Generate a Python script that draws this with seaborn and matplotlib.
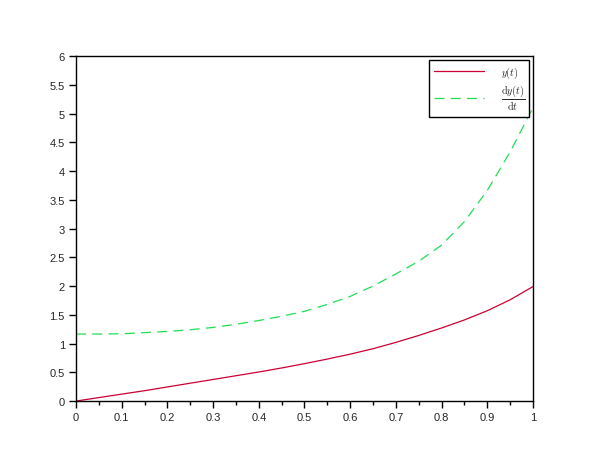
import matplotlib
matplotlib.use("Agg")
import matplotlib.pyplot as plt
import seaborn as sns
import pandas as pd
from matplotlib.ticker import MultipleLocator

t = [0.0, 0.05, 0.1, 0.15, 0.2, 0.25, 0.3, 0.35, 0.4, 0.45, 0.5,
     0.55, 0.6, 0.65, 0.7, 0.75, 0.8, 0.85, 0.9, 0.95, 1.0]
y_vals = [0.0, 0.06, 0.12, 0.18, 0.245, 0.31, 0.375, 0.44, 0.505, 0.575, 0.65,
          0.73, 0.815, 0.91, 1.02, 1.14, 1.27, 1.41, 1.57, 1.76, 1.99]
dy_vals = [1.165, 1.165, 1.17, 1.19, 1.21, 1.24, 1.28, 1.335, 1.40, 1.475, 1.56,
           1.68, 1.82, 2.0, 2.21, 2.43, 2.71, 3.12, 3.66, 4.33, 5.1]
labels = [r"$y(t)$", r"$\dfrac{\mathrm{d}y(t)}{\mathrm{d}t}$"]

sns.set_style("ticks")
plt.rcParams['font.family'] = ['Liberation Sans', 'DejaVu Sans']
plt.rcParams['mathtext.fontset'] = 'cm'

fig = plt.figure(figsize=(6.1, 4.6), dpi=100)
ax = fig.add_axes([0.1246, 0.126, 0.749, 0.750])

df = pd.DataFrame({"t": t, "y": y_vals, "dy": dy_vals})
sns.lineplot(data=df, x="t", y="y", ax=ax, color="#cc0033", lw=0.9, label=labels[0])
sns.lineplot(data=df, x="t", y="dy", ax=ax, color="#22dd55", lw=0.9,
             linestyle="--", label=labels[1])
ax.lines[1].set_dashes([8, 5])

ax.set_xlim(0, 1)
ax.set_ylim(0, 6)
ax.xaxis.set_major_locator(MultipleLocator(0.1))
ax.xaxis.set_minor_locator(MultipleLocator(0.05))
ax.yaxis.set_major_locator(MultipleLocator(0.5))
ax.set_xticklabels([f"{v:g}" for v in ax.get_xticks()])
ax.set_yticklabels([f"{v:g}" for v in ax.get_yticks()])
ax.tick_params(axis='both', which='major', direction='out', length=5, width=1,
               labelsize=8, color='black', pad=3)
ax.tick_params(axis='x', which='minor', direction='out', length=3, width=1, color='black')
ax.set_xlabel("")
ax.set_ylabel("")
for s in ax.spines.values():
    s.set_visible(True)
    s.set_color('black')
    s.set_linewidth(1)

leg = ax.legend(loc='upper right', bbox_to_anchor=(0.992, 0.988), fontsize=7.3,
                frameon=True, fancybox=False, shadow=False, handlelength=5,
                borderpad=0.45, labelspacing=0.3, handletextpad=1.6, borderaxespad=0)
leg.get_frame().set_edgecolor('black')
leg.get_frame().set_linewidth(1)
leg.get_frame().set_alpha(1)

fig.savefig("out.png", dpi=100)
